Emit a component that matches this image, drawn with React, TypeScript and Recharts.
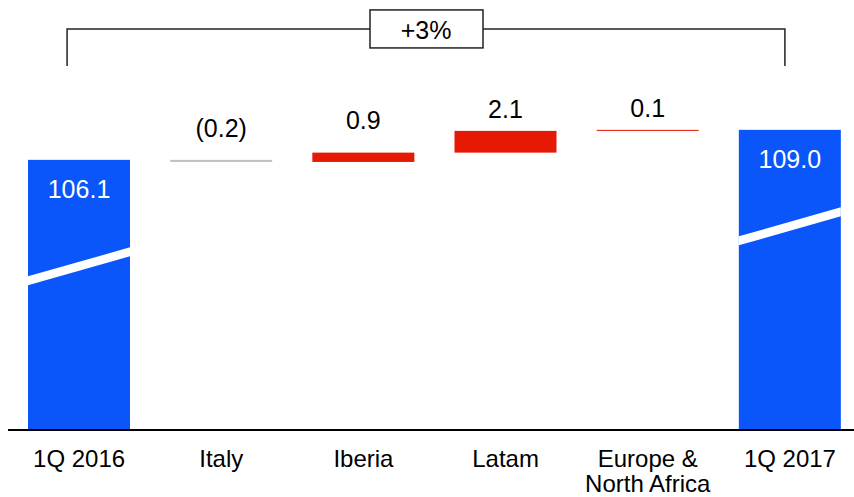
import { Bar, BarChart, ReferenceLine, XAxis, YAxis } from "recharts";

const categories = ["1Q 2016", "Italy", "Iberia", "Latam", "Europe & North Africa", "1Q 2017"];
const changes = [106.1, -0.2, 0.9, 2.1, 0.1, 109.0];
const isTotal = [true, false, false, false, false, true];
const valueLabels = ["106.1", "(0.2)", "0.9", "2.1", "0.1", "109.0"];
const growthLabel = "+3%";

const BLUE = "#0a56fb";
const RED = "#e61905";
const GREY = "#c0c0c0";
const FONT = "'Liberation Sans', Arial, sans-serif";

// styling only: where the axis-break stripe sits and how high labels float
const breakFromTop = [121, 0, 0, 0, 0, 111];
const labelLift = [0, 32, 33, 22, 22, 0];

let running = 0;
const data = categories.map((name, i) => {
  const v = changes[i];
  let range: [number, number];
  if (isTotal[i]) {
    range = [0, v];
    running = v;
  } else {
    const next = running + v;
    range = [Math.min(running, next), Math.max(running, next)];
    running = next;
  }
  return { name, range, total: isTotal[i], delta: v, label: valueLabels[i] };
});

function WaterfallBar(props: any) {
  const { x, y, width, height, index } = props;
  const d = data[index];
  const fill = d.total ? BLUE : d.delta < 0 ? GREY : RED;
  if (!d.total) {
    return <rect x={x} y={y} width={width} height={Math.max(height, 1)} fill={fill} />;
  }
  const yl = y + breakFromTop[index];
  const yr = yl - 29;
  return (
    <g>
      <rect x={x} y={y} width={width} height={height} fill={fill} />
      <polygon
        points={`${x},${yl - 4.5} ${x + width},${yr - 4.5} ${x + width},${yr + 4.5} ${x},${yl + 4.5}`}
        fill="#fff"
      />
    </g>
  );
}

function ValueLabel(props: any) {
  const { x, y, width, index } = props;
  const d = data[index];
  const cx = x + width / 2;
  if (d.total) {
    return (
      <text x={cx} y={y + 29} textAnchor="middle" dominantBaseline="central" fontSize={25} fontFamily={FONT} fill="#fff">
        {d.label}
      </text>
    );
  }
  return (
    <text x={cx} y={y - labelLift[index]} textAnchor="middle" dominantBaseline="central" fontSize={25} fontFamily={FONT} fill="#000">
      {d.label}
    </text>
  );
}

function CategoryTick(props: any) {
  const { x, y, payload } = props;
  const lines = String(payload.value).replace(" & ", " &\n").split("\n");
  return (
    <text x={x} y={y} textAnchor="middle" fontSize={24} fontFamily={FONT} fill="#000">
      {lines.map((l, i) => (
        <tspan key={i} x={x} dy={i === 0 ? 37 : 25}>
          {l}
        </tspan>
      ))}
    </text>
  );
}

function Bracket(props: any) {
  const { x1, y1, x2 } = props;
  const left = x1 - 12;
  const right = x2 - 5;
  const drop = 37;
  const mid = (left + right) / 2;
  return (
    <g>
      <path
        d={`M${left},${y1 + drop} L${left},${y1} L${right},${y1} L${right},${y1 + drop}`}
        fill="none"
        stroke="#222"
        strokeWidth={1.5}
      />
      <rect x={mid - 56} y={y1 - 19} width={113} height={38} fill="#fff" stroke="#222" strokeWidth={1.5} />
      <text x={mid} y={y1 + 1} textAnchor="middle" dominantBaseline="central" fontSize={25} fontFamily={FONT} fill="#000">
        {growthLabel}
      </text>
    </g>
  );
}

export default function App() {
  return (
    <div style={{ position: "absolute", left: 0, top: 0, width: 854, height: 497, overflow: "hidden", background: "#fff" }}>
      <BarChart width={861} height={497} data={data} margin={{ top: 16, right: 0, left: 8, bottom: 7 }}>
        <XAxis
          dataKey="name"
          interval={0}
          height={60}
          tickLine={false}
          tickSize={0}
          tickMargin={0}
          axisLine={{ stroke: "#000", strokeWidth: 2 }}
          tick={<CategoryTick />}
        />
        <YAxis hide domain={[80, 120]} allowDataOverflow />
        <ReferenceLine
          segment={[
            { x: "1Q 2016", y: 118.75 },
            { x: "1Q 2017", y: 118.75 },
          ]}
          ifOverflow="visible"
          shape={Bracket}
        />
        <Bar dataKey="range" barSize={102} isAnimationActive={false} shape={WaterfallBar} label={ValueLabel} />
      </BarChart>
    </div>
  );
}
